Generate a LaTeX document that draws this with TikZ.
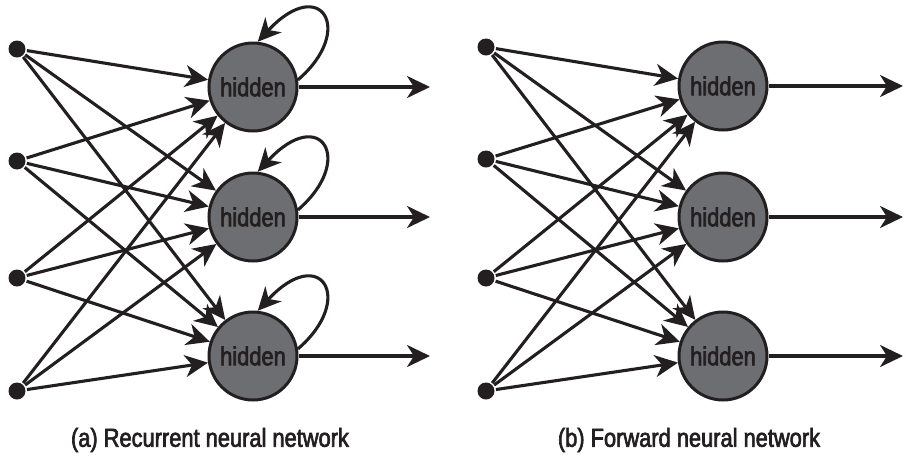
\documentclass[tikz,border=0pt]{standalone}
\usepackage{fontspec}
\newfontfamily\hfont{Liberation Sans}[FakeStretch=0.84,FakeBold=2.5]
\usetikzlibrary{arrows.meta}
\definecolor{ink}{HTML}{231F20}
\definecolor{hid}{HTML}{6D6E71}
\begin{document}
\begin{tikzpicture}[x=1pt,y=-1pt,
  line width=3.1pt, draw=ink,
  arr/.style={ink,-{Stealth[length=23pt,width=22pt,inset=7pt]}},
  dot/.style={circle,fill=ink,inner sep=0pt,minimum size=17pt},
  hnode/.style={circle,draw=ink,fill=hid,line width=3pt,inner sep=0pt,minimum size=88pt,
     font=\hfont\fontsize{26}{28}\selectfont,text=ink},
  captext/.style={font=\hfont\fontsize{26}{28}\selectfont,text=ink}]
\useasboundingbox (0,0) rectangle (906,459);
% left panel
\foreach \i/\y in {1/49,2/161,3/278,4/391}{\node[dot] (a\i) at (17,\y) {};}
\foreach \j/\y in {1/87,2/217,3/356}{
  \node[hnode] (ah\j) at (253,\y) {hidden};
  \coordinate (ao\j) at (430,\y);}
\foreach \i in {1,...,4}{\foreach \j in {1,2,3}{\draw[arr] (a\i) -- (ah\j);}}
\foreach \j in {1,2,3}{
  \draw[arr] (ah\j) -- (ao\j);
  \draw[arr] (ah\j.9) .. controls +(58,-50) and +(63,-68) .. (ah\j.84);}
\node[captext] (capa) at (210,440) {(a) Recurrent neural network};
% right panel
\foreach \i/\y in {1/47,2/159,3/278,4/391}{\node[dot] (b\i) at (486,\y) {};}
\foreach \j/\y in {1/86,2/217,3/356}{
  \node[hnode] (bh\j) at (723,\y) {hidden};
  \coordinate (bo\j) at (903,\y);}
\foreach \i in {1,...,4}{\foreach \j in {1,2,3}{\draw[arr] (b\i) -- (bh\j);}}
\foreach \j in {1,2,3}{\draw[arr] (bh\j) -- (bo\j);}
\node[captext] (capb) at (689,440) {(b) Forward neural network};
\end{tikzpicture}
\end{document}
